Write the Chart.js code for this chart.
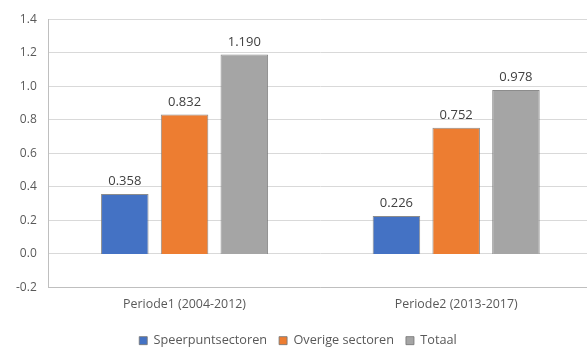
<!DOCTYPE html>
<html>
<head>
<meta charset="utf-8">
<script src="https://cdn.jsdelivr.net/npm/chart.js@4/dist/chart.umd.min.js"></script>
<style>
  html, body { margin: 0; padding: 0; background: #fff; overflow: hidden; }
  #wrap { position: relative; width: 592px; height: 350px; }
</style>
</head>
<body>
<div id="wrap"><canvas id="c" width="592" height="350"></canvas></div>
<script>
// Periods on the x-axis
const categories = ['Periode1 (2004-2012)', 'Periode2 (2013-2017)'];
// Series values per period
const speerpunt = [0.358, 0.226];
const overige = [0.832, 0.752];
const totaal = [1.190, 0.978];
// Value axis range
const yMin = -0.2;
const yMax = 1.4;
const yStep = 0.2;

const textColor = '#595959';
const fontFamily = "'Open Sans', 'Liberation Sans', sans-serif";

// Writes each bar's value above it, using the bar positions computed by Chart.js
const valueLabels = {
  id: 'valueLabels',
  afterDatasetsDraw(chart) {
    const ctx = chart.ctx;
    ctx.save();
    ctx.fillStyle = '#404040';
    ctx.font = '13px ' + fontFamily;
    ctx.textAlign = 'center';
    ctx.textBaseline = 'bottom';
    chart.data.datasets.forEach((ds, i) => {
      const meta = chart.getDatasetMeta(i);
      meta.data.forEach((bar, j) => {
        ctx.fillText(ds.data[j].toFixed(3), bar.x, bar.y - 6);
      });
    });
    ctx.restore();
  }
};

const barStyle = { borderColor: 'rgba(120,120,120,0.85)', borderWidth: 1, categoryPercentage: 0.66, barPercentage: 0.795 };

new Chart(document.getElementById('c'), {
  type: 'bar',
  data: {
    labels: categories,
    datasets: [
      Object.assign({ label: 'Speerpuntsectoren', data: speerpunt, backgroundColor: '#4472C4' }, barStyle),
      Object.assign({ label: 'Overige sectoren', data: overige, backgroundColor: '#ED7D31' }, barStyle),
      Object.assign({ label: 'Totaal', data: totaal, backgroundColor: '#A5A5A5' }, barStyle)
    ]
  },
  options: {
    responsive: false,
    animation: false,
    devicePixelRatio: 1,
    layout: { padding: { top: -2, left: 4, right: 0, bottom: -7 } },
    plugins: {
      legend: {
        position: 'bottom',
        labels: {
          boxWidth: 8,
          boxHeight: 8,
          padding: 12,
          color: textColor,
          font: { family: fontFamily, size: 12.7 }
        }
      },
      tooltip: { enabled: false }
    },
    scales: {
      x: {
        grid: { display: false, drawTicks: false },
        border: { display: true, color: '#bfbfbf' },
        ticks: { color: textColor, font: { family: fontFamily, size: 12.4 }, padding: 10 }
      },
      y: {
        min: yMin,
        max: yMax,
        ticks: {
          stepSize: yStep,
          color: textColor,
          font: { family: fontFamily, size: 12 },
          padding: 12,
          callback: v => (Math.abs(v) < 1e-9 ? 0 : Number(v)).toFixed(1)
        },
        grid: { color: '#d9d9d9', drawTicks: false },
        border: { display: true, color: '#bfbfbf' }
      }
    }
  },
  plugins: [valueLabels]
});
</script>
</body>
</html>
